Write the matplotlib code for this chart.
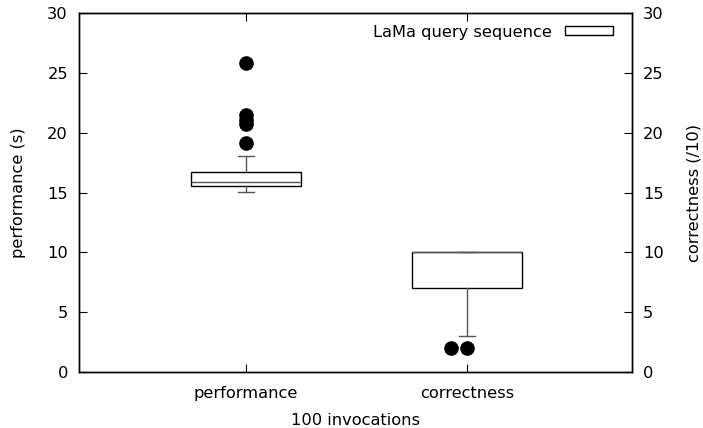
import numpy as np
import matplotlib
matplotlib.use("Agg")
import matplotlib.pyplot as plt
from matplotlib.patches import Patch

# ── Datos ─────────────────────────────────────────────────────────────────────
categorias = ["performance", "correctness"]
posiciones = [1, 2]

q1      = [15.57, 7.0]
mediana = [15.9, 10.0]
q3      = [16.73, 10.0]
bigote_inf = [15.06, 3.0]
bigote_sup = [18.07, 10.0]
atipicos = [
    [25.85, 21.5, 21.1, 20.7, 19.1],
    [2.0, 2.0],
]

FS = 11.7
plt.rcParams["font.family"] = "DejaVu Sans"
plt.rcParams["font.size"] = FS

fig = plt.figure(figsize=(7.03, 4.28), dpi=100)
ax = fig.add_axes([0.1124, 0.1308, 0.7866, 0.8388])

stats = []
for i, nombre in enumerate(categorias):
    stats.append(dict(label=nombre, med=mediana[i], q1=q1[i], q3=q3[i],
                      whislo=bigote_inf[i], whishi=bigote_sup[i], fliers=[]))

ax.bxp(stats, positions=posiciones, widths=0.5, showfliers=False,
       patch_artist=True,
       boxprops=dict(facecolor="white", edgecolor="black", lw=1.0),
       medianprops=dict(color="#555555", lw=1.0),
       whiskerprops=dict(color="#555555", lw=1.0),
       capprops=dict(color="#555555", lw=1.0),
       capwidths=0.07, zorder=2)

# puntos atípicos; los repetidos se desplazan a un lado (estilo gnuplot)
for pos, vals in zip(posiciones, atipicos):
    vistos = {}
    for v in vals:
        n = vistos.get(v, 0)
        vistos[v] = n + 1
        ax.plot(pos - 0.072 * n, v, "o", color="black", ms=9.5, zorder=3)

ax.set_xlim(0.244, 2.747)
ax.set_ylim(0, 30)
ax.set_xticks(posiciones)
ax.set_xticklabels(categorias)
ax.set_yticks(np.arange(0, 31, 5))
ax.set_xlabel("100 invocations", labelpad=9)
ax.set_ylabel("performance (s)", labelpad=15)
ax.tick_params(axis="y", direction="in", length=6, width=0.8, pad=8)
ax.tick_params(axis="x", direction="in", length=6, width=0.8,
               top=True, pad=10)

ax2 = ax.twinx()
ax2.set_ylim(0, 30)
ax2.set_yticks(np.arange(0, 31, 5))
ax2.set_ylabel("correctness (/10)", labelpad=16)
ax2.tick_params(axis="y", direction="in", length=6, width=0.8, pad=8)

for a in (ax, ax2):
    for s in a.spines.values():
        s.set_linewidth(1.0)

ax.legend(handles=[Patch(facecolor="white", edgecolor="black", lw=1.0)],
          labels=["LaMa query sequence"], loc="upper right", frameon=False,
          markerfirst=False, handlelength=3.0, handleheight=0.5,
          handletextpad=0.8, borderaxespad=0.5, fontsize=FS,
          bbox_to_anchor=(1 - 4 / 553, 1 + 3 / 359))

fig.savefig("out.png", dpi=100)
